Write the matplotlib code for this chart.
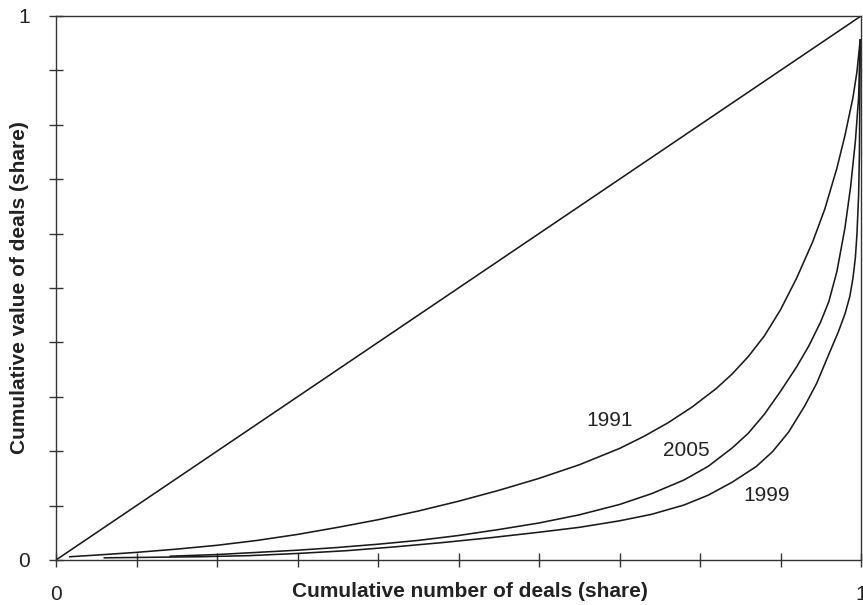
import matplotlib
matplotlib.use("Agg")
import matplotlib.pyplot as plt

plt.rcParams['font.family'] = ['Liberation Sans', 'DejaVu Sans']

# Data (share of deals vs share of value)
equality_x = [0.0, 1.0]
equality_y = [0.0, 1.0]

x_1991 = [0.017, 0.05, 0.10, 0.15, 0.20, 0.25, 0.30, 0.35, 0.40, 0.45, 0.50, 0.55, 0.60,
          0.65, 0.70, 0.73, 0.76, 0.79, 0.82, 0.84, 0.86, 0.88, 0.90, 0.92, 0.94, 0.955,
          0.97, 0.98, 0.99, 0.995, 0.999]
y_1991 = [0.006, 0.009, 0.014, 0.020, 0.027, 0.036, 0.047, 0.060, 0.074, 0.090, 0.108, 0.128, 0.150,
          0.175, 0.205, 0.227, 0.252, 0.281, 0.315, 0.342, 0.374, 0.412, 0.460, 0.518, 0.585, 0.645,
          0.720, 0.780, 0.850, 0.898, 0.956]

x_2005 = [0.142, 0.20, 0.25, 0.30, 0.35, 0.40, 0.45, 0.50, 0.55, 0.60, 0.65, 0.70, 0.74,
          0.78, 0.81, 0.84, 0.86, 0.88, 0.90, 0.92, 0.935, 0.95, 0.96, 0.97, 0.98, 0.987,
          0.993, 0.997, 0.999]
y_2005 = [0.007, 0.010, 0.014, 0.018, 0.023, 0.029, 0.036, 0.045, 0.056, 0.068, 0.083, 0.102, 0.122,
          0.147, 0.172, 0.206, 0.233, 0.268, 0.310, 0.355, 0.393, 0.438, 0.475, 0.530, 0.610, 0.685,
          0.770, 0.850, 0.956]

x_1999 = [0.060, 0.12, 0.18, 0.24, 0.30, 0.36, 0.42, 0.48, 0.54, 0.60, 0.65, 0.70, 0.74,
          0.78, 0.81, 0.84, 0.87, 0.89, 0.91, 0.93, 0.945, 0.96, 0.972, 0.980, 0.986, 0.990,
          0.993, 0.995, 0.997, 0.998, 0.999]
y_1999 = [0.004, 0.005, 0.006, 0.008, 0.012, 0.017, 0.024, 0.032, 0.041, 0.051, 0.060, 0.072, 0.084,
          0.101, 0.119, 0.143, 0.172, 0.199, 0.235, 0.283, 0.325, 0.378, 0.420, 0.452, 0.484, 0.518,
          0.556, 0.600, 0.670, 0.745, 0.956]

labels = ['1991', '2005', '1999']
label_x = [0.688, 0.783, 0.883]
label_y = [0.257, 0.202, 0.119]

fig = plt.figure(figsize=(8.63, 6.05), dpi=100)
ax = fig.add_axes([0.0649, 0.0744, 0.9328, 0.8992])

lw = 1.15
line_kw = dict(color='#1a1a1a', lw=lw, solid_joinstyle='round')
ax.plot(equality_x, equality_y, **line_kw)
ax.plot(x_1991, y_1991, **line_kw)
ax.plot(x_2005, y_2005, **line_kw)
ax.plot(x_1999, y_1999, **line_kw)

for t, lx, ly in zip(labels, label_x, label_y):
    ax.text(lx, ly, t, ha='center', va='center', fontsize=15, color='#222222')

ax.set_xlim(0, 1)
ax.set_ylim(0, 1)

ticks = [i / 10 for i in range(11)]
ax.set_xticks(ticks)
ax.set_yticks(ticks)
ax.set_xticklabels(['0'] + [''] * 9 + ['1'])
ax.set_yticklabels(['0'] + [''] * 9 + ['1'])
ax.tick_params(axis='both', direction='inout', length=10, width=1.0, color='#333333',
               labelsize=15, labelcolor='#222222')
ax.tick_params(axis='x', pad=13)
ax.tick_params(axis='y', pad=14)

for s in ax.spines.values():
    s.set_color('#333333')
    s.set_linewidth(1.0)

ax.set_xlabel('Cumulative number of deals (share)', fontsize=15, fontweight='bold', color='#222222')
ax.set_ylabel('Cumulative value of deals (share)', fontsize=15, fontweight='bold', color='#222222')
ax.xaxis.set_label_coords(0.514, -0.040)
ax.yaxis.set_label_coords(-0.034, 0.5)

fig.savefig('out.png', dpi=100)
